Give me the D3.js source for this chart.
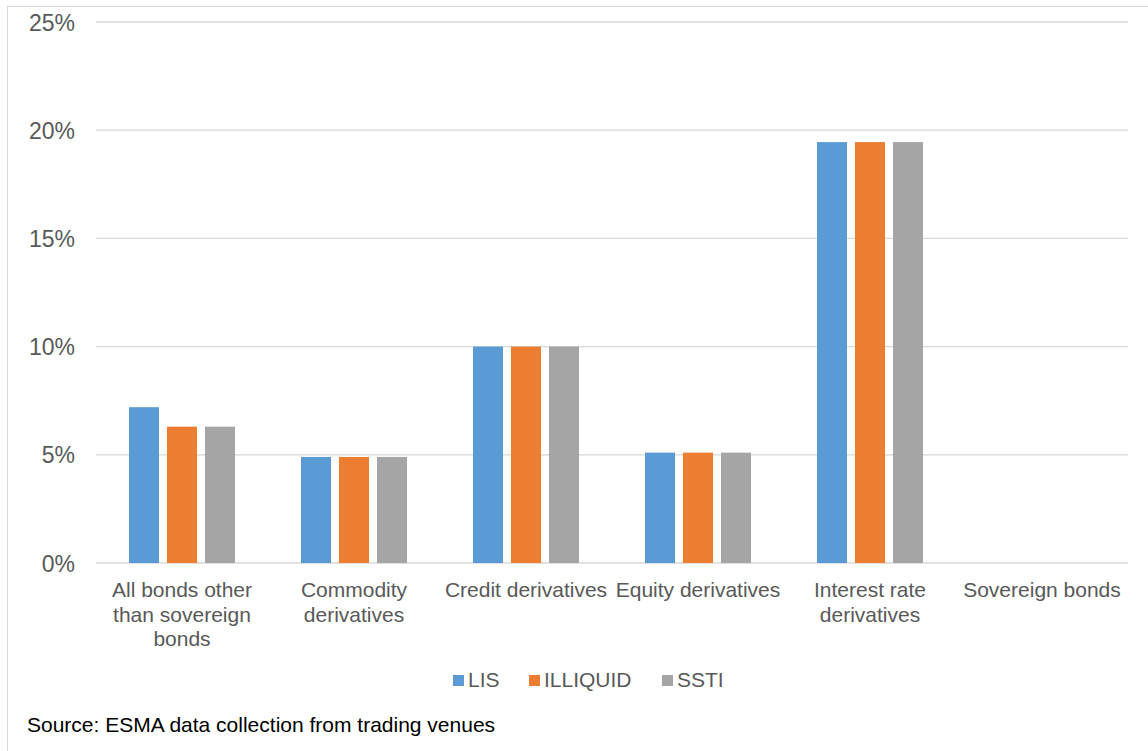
<!DOCTYPE html>
<html>
<head>
<meta charset="utf-8">
<script src="https://cdn.jsdelivr.net/npm/d3@7"></script>
<style>
  html, body { margin: 0; padding: 0; background: #fff; }
  svg { display: block; font-family: "Liberation Sans", Arial, sans-serif; }
</style>
</head>
<body>
<svg id="chart" width="1148" height="751"></svg>
<script>
// Share of instruments by asset class, per waiver type (%)
const categories = [
  ["All bonds other", "than sovereign", "bonds"],
  ["Commodity", "derivatives"],
  ["Credit derivatives"],
  ["Equity derivatives"],
  ["Interest rate", "derivatives"],
  ["Sovereign bonds"]
];
const seriesNames = ["LIS", "ILLIQUID", "SSTI"];
const lisValues      = [7.2, 4.9, 10.0, 5.1, 19.45, 0];
const illiquidValues = [6.3, 4.9, 10.0, 5.1, 19.45, 0];
const sstiValues     = [6.3, 4.9, 10.0, 5.1, 19.45, 0];
const yTicks = [0, 5, 10, 15, 20, 25];
const colors = ["#5b9bd5", "#ed7d31", "#a5a5a5"];
const sourceNote = "Source: ESMA data collection from trading venues";

const seriesValues = [lisValues, illiquidValues, sstiValues];

const svg = d3.select("#chart");

// Outer frame (top and left edges visible)
svg.append("line").attr("x1", 7).attr("x2", 1148).attr("y1", 6.5).attr("y2", 6.5)
  .attr("stroke", "#d9d9d9").attr("stroke-width", 1);
svg.append("line").attr("x1", 7.5).attr("x2", 7.5).attr("y1", 6).attr("y2", 751)
  .attr("stroke", "#d9d9d9").attr("stroke-width", 1);

const plot = { left: 96, right: 1128, top: 22, bottom: 563 };

const x = d3.scaleBand()
  .domain(d3.range(categories.length))
  .range([plot.left, plot.right])
  .padding(0);

const y = d3.scaleLinear()
  .domain([0, 25])
  .range([plot.bottom, plot.top]);

const inner = d3.scaleBand()
  .domain(d3.range(seriesNames.length))
  .range([-53, 53])
  .paddingInner(0.21)
  .paddingOuter(0);

// Gridlines
svg.append("g")
  .selectAll("line")
  .data(yTicks)
  .join("line")
  .attr("x1", plot.left).attr("x2", plot.right)
  .attr("y1", d => y(d)).attr("y2", d => y(d))
  .attr("stroke", "#d9d9d9").attr("stroke-width", 1.3);

// Y axis labels
const yAxis = d3.axisLeft(y)
  .tickValues(yTicks)
  .tickFormat(d => d + "%")
  .tickSize(0)
  .tickPadding(0);
const yg = svg.append("g").attr("transform", `translate(75,0)`).call(yAxis);
yg.select(".domain").remove();
yg.selectAll("text")
  .attr("fill", "#595959")
  .attr("dy", "8")
  .style("font-size", "23px")
  .style("font-family", "'Liberation Sans', Arial, sans-serif");

// Bars
seriesValues.forEach((vals, si) => {
  svg.append("g")
    .selectAll("rect")
    .data(vals)
    .join("rect")
    .attr("x", (d, i) => x(i) + x.bandwidth() / 2 + inner(si))
    .attr("width", inner.bandwidth())
    .attr("y", d => y(d))
    .attr("height", d => y(0) - y(d))
    .attr("fill", colors[si]);
});

// Category labels
const xg = svg.append("g");
categories.forEach((lines, i) => {
  const t = xg.append("text")
    .attr("x", x(i) + x.bandwidth() / 2)
    .attr("y", 597)
    .attr("text-anchor", "middle")
    .attr("fill", "#595959")
    .style("font-size", "21px");
  lines.forEach((ln, j) => {
    t.append("tspan")
      .attr("x", x(i) + x.bandwidth() / 2)
      .attr("dy", j === 0 ? 0 : 24.5)
      .text(ln);
  });
});

// Legend
const legendX = [453, 529, 662];
const lg = svg.append("g");
seriesNames.forEach((name, i) => {
  lg.append("rect")
    .attr("x", legendX[i]).attr("y", 675)
    .attr("width", 11).attr("height", 11)
    .attr("fill", colors[i]);
  lg.append("text")
    .attr("x", legendX[i] + 15).attr("y", 687)
    .attr("fill", "#595959")
    .style("font-size", "21px")
    .text(name);
});

// Source note
svg.append("text")
  .attr("x", 27).attr("y", 732)
  .attr("fill", "#000")
  .style("font-size", "21px")
  .text(sourceNote);
</script>
</body>
</html>
